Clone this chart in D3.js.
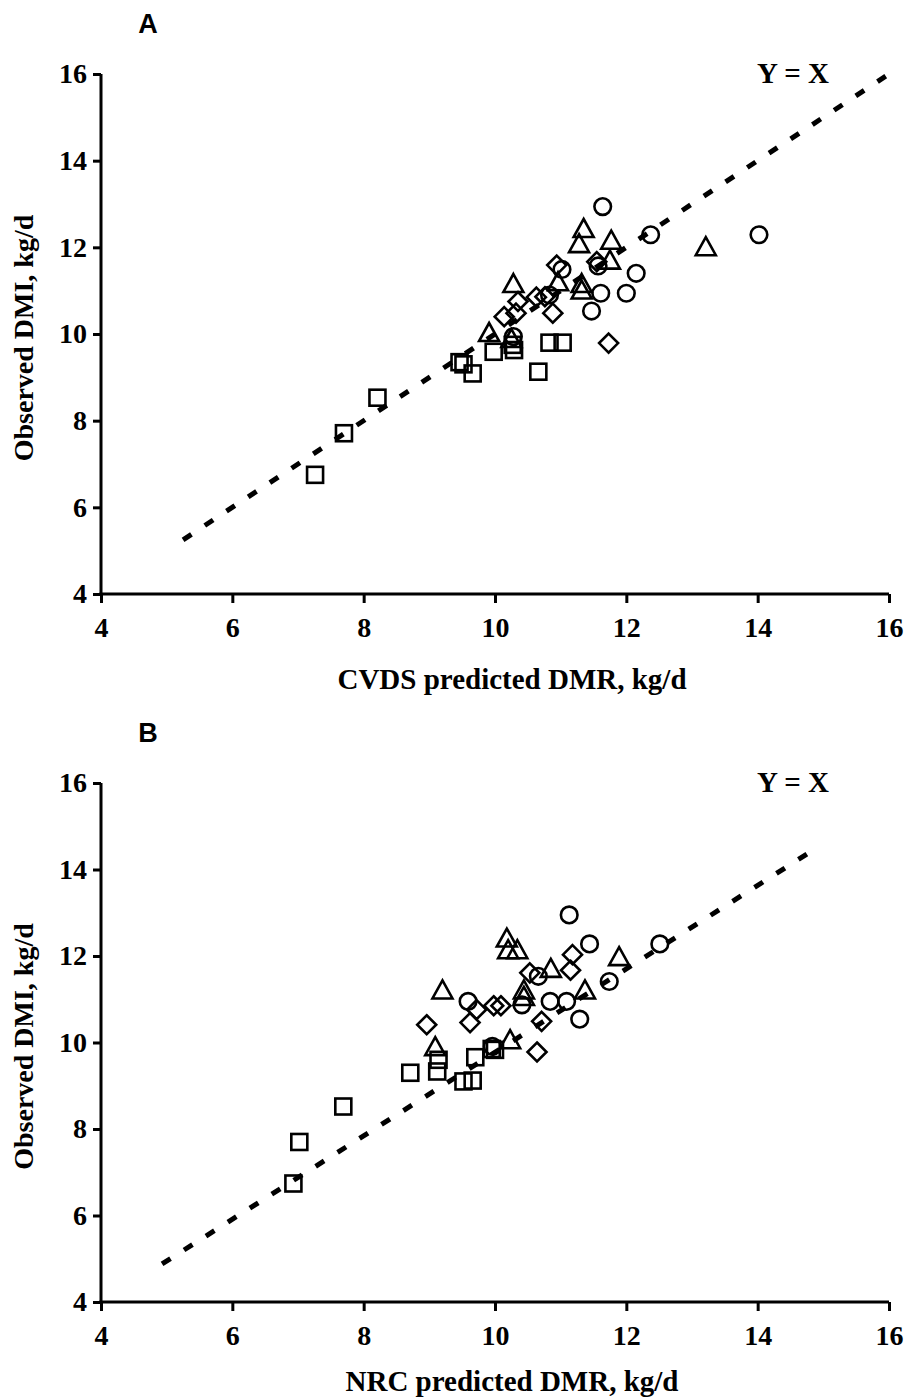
<!DOCTYPE html>
<html lang="en">
<head>
  <meta charset="UTF-8">
  <title>DMI vs predicted DMR</title>
  <script src="https://cdn.jsdelivr.net/npm/d3@7/dist/d3.min.js" charset="utf-8"></script>
  <style>
    body { margin: 0; background: #fff; }
    text { font-family: "Liberation Serif", "Times New Roman", serif; font-weight: bold; fill: #000; }
  </style>
</head>
<body>
</body>
<script>
  // axis ticks (both panels)
  let ticks = [4, 6, 8, 10, 12, 14, 16]

  // panel A : CVDS predicted DMR (x) vs observed DMI (y)
  let aSquares = [[7.26,6.75],[7.70,7.71],[8.21,8.53],[9.46,9.35],[9.52,9.30],[9.66,9.09],[9.98,9.59],[10.29,9.63],[10.27,9.75],[10.66,9.13],[10.83,9.80],[11.03,9.80]]
  let aCircles = [[11.64,12.94],[12.37,12.29],[14.02,12.29],[12.15,11.40],[12.00,10.94],[11.61,10.94],[11.47,10.53],[11.57,11.57],[11.02,11.49],[10.83,10.90],[10.28,9.94]]
  let aTriangles = [[11.35,12.40],[11.28,12.05],[11.77,12.13],[11.75,11.67],[13.21,11.98],[10.28,11.13],[11.32,11.13],[11.32,10.98],[10.96,11.17],[9.91,10.00],[10.25,9.86]]
  let aDiamonds = [[10.94,11.59],[11.55,11.67],[10.35,10.75],[10.14,10.40],[10.32,10.48],[10.63,10.85],[10.76,10.86],[10.88,10.48],[11.73,9.79]]
  let aLine = [[5.25,5.25],[15.95,15.95]]

  // panel B : NRC predicted DMR (x) vs observed DMI (y)
  let bSquares = [[6.93,6.74],[7.02,7.70],[7.69,8.52],[8.71,9.30],[9.14,9.60],[9.12,9.33],[9.52,9.10],[9.66,9.12],[9.70,9.66],[10.00,9.83],[9.95,9.85]]
  let bCircles = [[11.13,12.95],[11.44,12.28],[12.51,12.28],[11.74,11.41],[9.59,10.95],[10.84,10.95],[11.09,10.95],[11.29,10.54],[10.66,11.53],[10.41,10.87],[9.96,9.91]]
  let bTriangles = [[10.18,12.38],[10.20,12.11],[10.34,12.11],[10.85,11.68],[11.89,11.95],[9.20,11.18],[10.44,11.18],[10.44,11.03],[11.37,11.18],[10.23,10.03],[9.09,9.87]]
  let bDiamonds = [[11.18,12.03],[11.15,11.67],[10.53,11.61],[9.72,10.76],[9.98,10.85],[10.09,10.85],[9.62,10.46],[8.96,10.41],[10.71,10.49],[10.64,9.78]]
  let bLine = [[4.93,4.88],[14.95,14.55]]

  var svg = d3.select('body').append('svg').attr('width', 908).attr('height', 1399)

  function panel(opt) {
    var x = d3.scaleLinear().domain([4, 16]).range([101, 889])
    var y = d3.scaleLinear().domain([4, 16]).range([opt.bottom, opt.top])
    var g = svg.append('g')

    // axes
    var xAxis = g.append('g').attr('transform', 'translate(0,' + opt.bottom + ')')
      .call(d3.axisBottom(x).tickValues(ticks).tickSize(9).tickPadding(14).tickSizeOuter(0))
    var yAxis = g.append('g').attr('transform', 'translate(101,0)')
      .call(d3.axisLeft(y).tickValues(ticks).tickSize(8).tickPadding(6).tickSizeOuter(0))
    ;[xAxis, yAxis].forEach(a => {
      a.select('.domain').attr('stroke', '#000').attr('stroke-width', 3)
      a.selectAll('.tick line').attr('stroke', '#000').attr('stroke-width', 3)
      a.selectAll('.tick text').attr('font-family', '"Liberation Serif", serif').attr('font-size', 28).attr('font-weight', 'bold').attr('fill', '#000')
    })
    // extend domain lines to meet at the corner
    xAxis.select('.domain').attr('d', 'M' + (x(4) - 1.5) + ',0H' + x(16))
    yAxis.select('.domain').attr('d', 'M0,' + (opt.bottom + 1.5) + 'V' + opt.top)

    // y = x reference line
    var lineGenerator = d3.line().x(d => x(d[0])).y(d => y(d[1]))
    g.append('path').attr('d', lineGenerator(opt.line))
      .attr('stroke', '#000').attr('stroke-width', 5).attr('fill', 'none')
      .attr('stroke-dasharray', '10,16')

    var mk = g.append('g').attr('fill', 'none').attr('stroke', '#000').attr('stroke-width', 2.6)
    mk.selectAll('rect').data(opt.squares).enter().append('rect')
      .attr('x', d => x(d[0]) - 8).attr('y', d => y(d[1]) - 8).attr('width', 16).attr('height', 16)
    mk.selectAll('circle').data(opt.circles).enter().append('circle')
      .attr('cx', d => x(d[0])).attr('cy', d => y(d[1])).attr('r', 8.3)
    mk.selectAll('path.tri').data(opt.triangles).enter().append('path').attr('class', 'tri')
      .attr('d', d => { var cx = x(d[0]), cy = y(d[1]); return 'M' + cx + ',' + (cy - 11) + 'L' + (cx + 10) + ',' + (cy + 7) + 'L' + (cx - 10) + ',' + (cy + 7) + 'Z' })
    mk.selectAll('path.dia').data(opt.diamonds).enter().append('path').attr('class', 'dia')
      .attr('d', d => { var cx = x(d[0]), cy = y(d[1]); return 'M' + cx + ',' + (cy - 9.5) + 'L' + (cx + 9.5) + ',' + cy + 'L' + cx + ',' + (cy + 9.5) + 'L' + (cx - 9.5) + ',' + cy + 'Z' })

    // labels
    g.append('text').attr('x', 148).attr('y', opt.top - 41).attr('text-anchor', 'middle')
      .style('font-family', '"Liberation Sans", Arial, sans-serif').attr('font-size', 27).text(opt.letter)
    g.append('text').attr('x', 793).attr('y', opt.top + 9).attr('text-anchor', 'middle')
      .attr('font-size', 29).text('Y = X')
    g.append('text').attr('x', 512).attr('y', opt.titleY).attr('text-anchor', 'middle')
      .attr('font-size', 29).text(opt.xTitle)
    g.append('text').attr('transform', 'translate(33,' + ((opt.top + opt.bottom) / 2 + 4) + ') rotate(-90)')
      .attr('text-anchor', 'middle').attr('font-size', 28).text('Observed DMI, kg/d')
  }

  panel({ top: 74, bottom: 594, titleY: 689, letter: 'A', xTitle: 'CVDS predicted DMR, kg/d',
    squares: aSquares, circles: aCircles, triangles: aTriangles, diamonds: aDiamonds, line: aLine })
  panel({ top: 783, bottom: 1302, titleY: 1391, letter: 'B', xTitle: 'NRC predicted DMR, kg/d',
    squares: bSquares, circles: bCircles, triangles: bTriangles, diamonds: bDiamonds, line: bLine })
</script>
</html>
